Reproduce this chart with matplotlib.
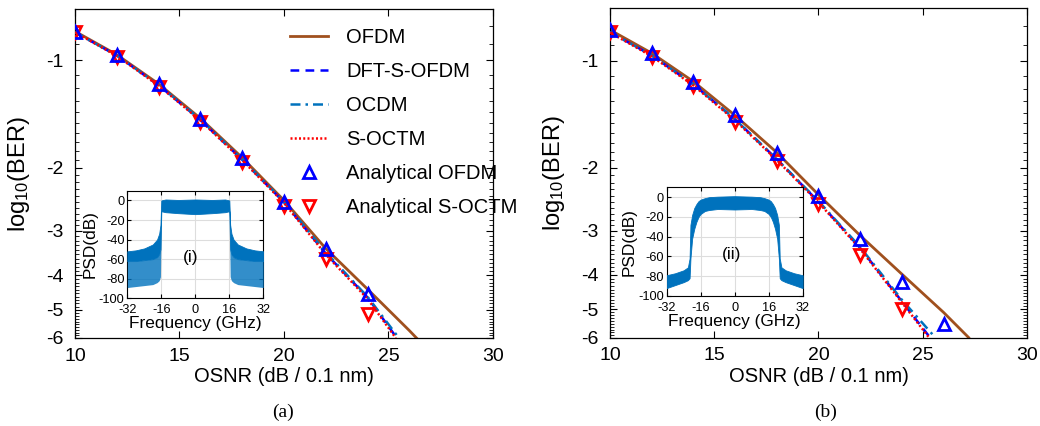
import numpy as np
import matplotlib
matplotlib.use("Agg")
import matplotlib.pyplot as plt

plt.rcParams.update({
    "font.family": ["Liberation Sans", "DejaVu Sans"],
    "mathtext.fontset": "custom",
    "mathtext.rm": "Liberation Sans",
    "mathtext.it": "Liberation Sans:italic",
    "axes.unicode_minus": False,
    "xtick.direction": "in", "ytick.direction": "in",
})

# ---- main curves, log10(BER) vs OSNR -------------------------------------
# panel (a)
ofdm_a_x = [10, 12, 14, 16, 18, 20, 22, 24, 26, 26.4]
ofdm_a = [-0.83, -0.965, -1.165, -1.455, -1.875, -2.47, -3.37, -4.38, -5.72, -6.05]
dft_a_x = [10, 12, 14, 16, 18, 20, 22, 24, 25.4]
dft_a = [-0.835, -0.97, -1.175, -1.47, -1.9, -2.5, -3.48, -4.62, -6.0]
ocdm_a_x = [10, 12, 14, 16, 18, 20, 22, 24, 25.5]
ocdm_a = [-0.835, -0.97, -1.172, -1.465, -1.895, -2.49, -3.45, -4.6, -6.0]
soctm_a_x = [10, 12, 14, 16, 18, 20, 22, 24, 25.35]
soctm_a = [-0.835, -0.972, -1.178, -1.475, -1.905, -2.51, -3.5, -4.66, -6.0]
an_ofdm_a_x = [10, 12, 14, 16, 18, 20, 22, 24]
an_ofdm_a = [-0.832, -0.966, -1.166, -1.457, -1.876, -2.488, -3.379, -4.511]
an_soctm_a_x = [10, 12, 14, 16, 18, 20, 22, 24]
an_soctm_a = [-0.835, -0.977, -1.189, -1.489, -1.924, -2.559, -3.603, -5.13]

# panel (b)
ofdm_b_x = [10, 12, 14, 16, 18, 20, 22, 24, 26, 27.2]
ofdm_b = [-0.818, -0.951, -1.143, -1.424, -1.81, -2.38, -3.1, -3.98, -5.1, -6.0]
dft_b_x = [10, 12, 14, 16, 18, 20, 22, 24, 25.35]
dft_b = [-0.83, -0.965, -1.165, -1.46, -1.89, -2.49, -3.36, -4.75, -6.0]
ocdm_b_x = [10, 12, 14, 16, 18, 20, 22, 24, 25.6]
ocdm_b = [-0.83, -0.965, -1.165, -1.46, -1.89, -2.48, -3.34, -4.7, -6.0]
soctm_b_x = [10, 12, 14, 16, 18, 20, 22, 24, 25.3]
soctm_b = [-0.832, -0.97, -1.172, -1.47, -1.9, -2.5, -3.38, -4.78, -6.0]
an_ofdm_b_x = [10, 12, 14, 16, 18, 20, 22, 24, 26]
an_ofdm_b = [-0.818, -0.951, -1.143, -1.424, -1.816, -2.405, -3.168, -4.196, -5.49]
an_soctm_b_x = [10, 12, 14, 16, 18, 20, 22, 24]
an_soctm_b = [-0.831, -0.976, -1.175, -1.481, -1.918, -2.522, -3.507, -4.983]

# ---- inset spectra (envelopes) -------------------------------------------
psd_a_f = [-32, -28, -24, -20, -18, -17, -16.4, -16, -14, -8, 0, 8, 14, 16, 16.4, 17, 18, 20, 24, 28, 32]
psd_a_up = [-52, -51, -49, -45, -40, -34, -25, 0, 1, 0.5, 1, 0.5, 1, 0, -25, -34, -40, -45, -49, -51, -52]
psd_a_mid = [-62, -62, -61, -60, -58, -55, -50, -11, -12, -13, -14, -13, -12, -11, -50, -55, -58, -60, -61, -62, -62]
psd_a_low = [-89, -88, -87, -86, -84, -82, -78, -11, -12, -13, -14, -13, -12, -11, -78, -82, -84, -86, -87, -88, -89]

psd_b_f = [-32, -28, -24, -22, -21.2, -20.8, -20, -19, -18, -17, -16, -14, -12, -8, 0, 8, 12, 14, 16, 17, 18, 19, 20, 20.8, 21.2, 22, 24, 28, 32]
psd_b_up = [-79, -77, -74, -71, -62, -28, -18, -11, -7, -4, -2.5, -1, 0, 0.5, 1, 0.5, 0, -1, -2.5, -4, -7, -11, -18, -28, -62, -71, -74, -77, -79]
psd_b_low = [-92, -89, -86, -84, -82, -62, -42, -32, -25, -20, -17, -14, -13, -12, -12.5, -12, -13, -14, -17, -20, -25, -32, -42, -62, -82, -84, -86, -89, -92]

yticks = [-1, -2, -3, -4, -5, -6]
yminor = [-k / 10 for k in range(8, 60) if k % 10]

C_OFDM = "#A0501E"
C_DFT = "#0000FF"
C_OCDM = "#0072BD"
C_SOCTM = "#FF0000"
C_PSD = "#0072BD"


def fwd(y):
    with np.errstate(all="ignore"):
        return -np.log10(-np.asarray(y, float))


def inv(t):
    return -10.0 ** (-np.asarray(t, float))


def draw_main(ax, d, ytop, legend=False):
    ax.plot(d["ofdm"][0], d["ofdm"][1], "-", color=C_OFDM, lw=2, label="OFDM", zorder=2)
    ax.plot(d["dft"][0], d["dft"][1], "--", color=C_DFT, lw=1.8, dashes=(3.5, 2.5),
            label="DFT-S-OFDM", zorder=3)
    ax.plot(d["ocdm"][0], d["ocdm"][1], "-.", color=C_OCDM, lw=1.8,
            dashes=(4, 2, 1, 2), label="OCDM", zorder=3)
    ax.plot(d["soctm"][0], d["soctm"][1], ":", color=C_SOCTM, lw=1.8,
            dashes=(0.8, 0.9), label="S-OCTM", zorder=4)
    ax.plot(d["an_ofdm"][0], d["an_ofdm"][1], "^", ls="none", ms=9, mew=2,
            mfc="none", mec="#0000FF", label="Analytical OFDM", zorder=6)
    ax.plot(d["an_soctm"][0], d["an_soctm"][1], "v", ls="none", ms=9, mew=2,
            mfc="none", mec="#FF0000", label="Analytical S-OCTM", zorder=5)
    ax.set_yscale("function", functions=(fwd, inv))
    ax.set_ylim(-6, ytop)
    ax.set_xlim(10, 30)
    ax.set_xticks([10, 15, 20, 25, 30])
    ax.set_yticks(yticks)
    ax.set_yticklabels([str(v) for v in yticks])
    ax.set_yticks(yminor, minor=True)
    ax.set_xticks([], minor=True)
    ax.tick_params(which="both", top=True, right=True, labelsize=14)
    ax.tick_params(which="major", length=5, width=0.8)
    ax.tick_params(which="minor", length=3, width=0.6)
    ax.tick_params(axis="y", pad=8)
    ax.tick_params(axis="x", pad=7)
    ax.set_xlabel("OSNR (dB / 0.1 nm)", fontsize=14.5, labelpad=2)
    ax.set_ylabel(r"log$_{10}$(BER)", fontsize=17, labelpad=10)
    for s in ax.spines.values():
        s.set_linewidth(0.9)
    if legend:
        ax.legend(loc="upper left", bbox_to_anchor=(0.49, 0.975), frameon=False,
                  fontsize=14.5, handlelength=1.9, handletextpad=0.9,
                  labelspacing=0.75, borderpad=0)


def draw_inset(ax, f, up, mid, low, tag):
    ax.fill_between(f, mid, up, color=C_PSD, lw=0.6, zorder=3)
    ax.fill_between(f, low, mid, color=C_PSD, alpha=0.8, lw=0, zorder=3)
    ax.set_xlim(-32, 32)
    ax.set_ylim(-100, 10)
    ax.set_xticks([-32, -16, 0, 16, 32])
    ax.set_yticks([0, -20, -40, -60, -80, -100])
    ax.grid(True, color="#dddddd", lw=0.8, zorder=0)
    ax.tick_params(which="both", top=True, right=True, labelsize=9.2, length=3)
    ax.tick_params(axis="x", pad=4)
    ax.tick_params(axis="y", pad=2)
    ax.set_xlabel("Frequency (GHz)", fontsize=12.4, labelpad=0)
    ax.set_ylabel("PSD(dB)", fontsize=12.4, labelpad=1)
    ax.text(-6, -63, tag, fontsize=12.4, zorder=5)
    ax.set_facecolor("white")


fig = plt.figure(figsize=(10.4, 4.26), dpi=100)

data_a = {"ofdm": (ofdm_a_x, ofdm_a), "dft": (dft_a_x, dft_a), "ocdm": (ocdm_a_x, ocdm_a),
          "soctm": (soctm_a_x, soctm_a), "an_ofdm": (an_ofdm_a_x, an_ofdm_a),
          "an_soctm": (an_soctm_a_x, an_soctm_a)}
data_b = {"ofdm": (ofdm_b_x, ofdm_b), "dft": (dft_b_x, dft_b), "ocdm": (ocdm_b_x, ocdm_b),
          "soctm": (soctm_b_x, soctm_b), "an_ofdm": (an_ofdm_b_x, an_ofdm_b),
          "an_soctm": (an_soctm_b_x, an_soctm_b)}

ax_a = fig.add_axes([0.0721, 0.2066, 0.4019, 0.7716])
draw_main(ax_a, data_a, -0.72, legend=True)
ax_b = fig.add_axes([0.5865, 0.2077, 0.4010, 0.7735])
draw_main(ax_b, data_b, -0.71)

in_a = fig.add_axes([0.1224, 0.2998, 0.1308, 0.2526])
draw_inset(in_a, psd_a_f, psd_a_up, psd_a_mid, psd_a_low, "(i)")
in_b = fig.add_axes([0.6410, 0.3052, 0.1308, 0.2552])
draw_inset(in_b, psd_b_f, psd_b_up, psd_b_low, psd_b_low, "(ii)")

fig.text(283 / 1040, 1 - 412 / 426, "(a)", family="Liberation Serif", fontsize=14,
         ha="center", va="center")
fig.text(826 / 1040, 1 - 412 / 426, "(b)", family="Liberation Serif", fontsize=14,
         ha="center", va="center")

fig.savefig("out.png", dpi=100)
